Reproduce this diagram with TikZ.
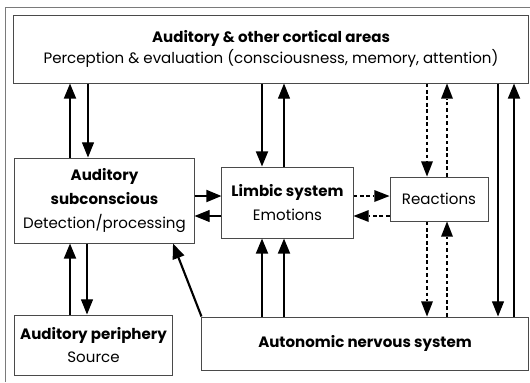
\documentclass[tikz,border=0pt]{standalone}
\usepackage{fontspec}
\setmainfont{Poppins}
\usetikzlibrary{arrows.meta}

\definecolor{boxgray}{HTML}{4A4A4A}
\definecolor{framegray}{HTML}{7A7A7A}

\tikzset{
  box/.style={shape=rectangle, draw=boxgray, line width=0.7pt, inner sep=0pt, align=center, font=\fontsize{10.7}{15.5}\selectfont},
  heavy/.style={line width=1.5pt, -{Triangle[length=3.8mm,width=3mm]}},
  light/.style={line width=0.8pt, -{Triangle[length=3.8mm,width=3mm]}},
  dashline/.style={line width=0.8pt, dash pattern={on 2.6pt off 2pt}, -{Triangle[length=3.8mm,width=3mm,line width=0pt]}}
}

\begin{document}
\begin{tikzpicture}[x=0.025cm, y=-0.025cm]
			\useasboundingbox[fill=white] (0,0) rectangle (530,382);
			\draw[framegray, line width=0.7pt] (5,382) -- (5,7) -- (530,7);
			% boxes
			\node[box, minimum width=12.85cm, minimum height=1.7cm](cortex) at (271,49){\textbf{Auditory \& other cortical areas}\\Perception \& evaluation (consciousness, memory, attention)};
			\node[box, minimum width=4.475cm, minimum height=2.125cm, font=\fontsize{10.7}{16.8}\selectfont](subcon) at (104.5,200.5){\textbf{Auditory}\\\textbf{subconscious}\\Detection/processing};
			\node[box, minimum width=3.275cm, minimum height=1.775cm, font=\fontsize{10.7}{16.5}\selectfont](limbic) at (287.5,202.5){\textbf{Limbic system}\\Emotions};
			\node[box, minimum width=2.45cm, minimum height=1.1cm](react) at (439,199){Reactions};
			\node[box, minimum width=3.925cm, minimum height=1.5cm, font=\fontsize{10.7}{16.5}\selectfont](periph) at (93.5,345){\textbf{Auditory periphery}\\Source};
			\node[box, minimum width=8.15cm, minimum height=1.325cm](auto) at (365,343.5){\textbf{Autonomic nervous system}};
			% cortex links
			\draw[heavy] (subcon.north -| 70,0) -- (cortex.south -| 70,0);
			\draw[light] (cortex.south -| 88,0) -- (subcon.north -| 88,0);
			\draw[heavy] (cortex.south -| 262,0) -- (limbic.north -| 262,0);
			\draw[light] (limbic.north -| 284,0) -- (cortex.south -| 284,0);
			\draw[dashline] (cortex.south -| 427,0) -- (react.north -| 427,0);
			\draw[dashline] (react.north -| 447,0) -- (cortex.south -| 447,0);
			\draw[light] (cortex.south -| 498,0) -- (auto.north -| 498,0);
			\draw[heavy] (auto.north -| 514,0) -- (cortex.south -| 514,0);
			% middle row
			\draw[heavy] (subcon.east |- 0,196) -- (limbic.west |- 0,196);
			\draw[light] (limbic.west |- 0,216) -- (subcon.east |- 0,216);
			\draw[dashline] (limbic.east |- 0,196) -- (react.west |- 0,196);
			\draw[dashline] (react.west |- 0,216) -- (limbic.east |- 0,216);
			% bottom row
			\draw[heavy] (periph.north -| 70,0) -- (subcon.south -| 70,0);
			\draw[light] (subcon.south -| 87,0) -- (periph.north -| 87,0);
			\draw[heavy] (auto.north -| 262,0) -- (limbic.south -| 262,0);
			\draw[heavy] (auto.north -| 284,0) -- (limbic.south -| 284,0);
			\draw[dashline] (react.south -| 427,0) -- (auto.north -| 427,0);
			\draw[dashline] (auto.north -| 447,0) -- (react.south -| 447,0);
			\draw[heavy] (auto.north west) -- (subcon.south -| 173,0);
		\end{tikzpicture}
\end{document}
